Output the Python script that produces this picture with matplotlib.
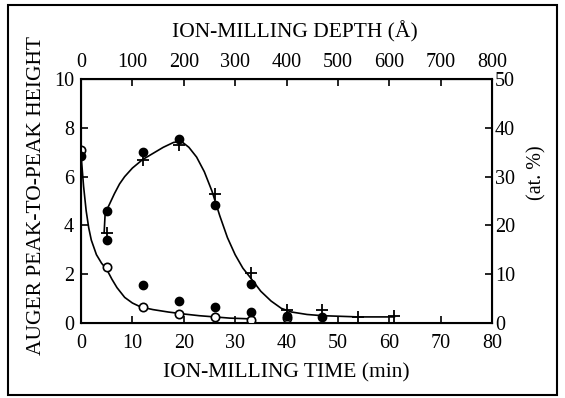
import numpy as np
import matplotlib
matplotlib.use('Agg')
from matplotlib import pyplot as plt
from matplotlib.patches import Rectangle
from matplotlib.ticker import FixedLocator

plt.rcParams['font.family'] = 'Liberation Serif'
plt.rcParams['font.size'] = 14.5

# open circles (left axis)
t_open = [0, 5, 12, 19, 26, 33, 40]
v_open = [7.1, 2.3, 0.66, 0.37, 0.25, 0.12, 0.2]

# filled circles, peak series (left axis)
t_peak = [5, 12, 19, 26, 33]
v_peak = [4.6, 7.0, 7.55, 4.84, 1.6]

# filled circles, decaying series (left axis)
t_fill = [0, 5, 12, 19, 26, 33, 40, 47]
v_fill = [6.85, 3.4, 1.56, 0.9, 0.66, 0.45, 0.3, 0.25]

# crosses, concentration (right axis, at. %)
t_plus = [5, 12, 19, 26, 33, 40, 47, 54, 61]
v_plus = [18.5, 33.5, 36.5, 26.5, 10.2, 2.6, 2.6, 1.3, 1.4]

# hand drawn guide curves (left axis units)
t_curve1 = [0, 0.5, 1, 1.5, 2, 3, 4, 5, 6, 7, 8.5, 10, 11.6, 14, 17, 20, 23, 26, 29, 33]
v_curve1 = [6.9, 5.6, 4.6, 3.9, 3.4, 2.8, 2.45, 2.2, 1.8, 1.45, 1.05, 0.82, 0.66,
            0.55, 0.45, 0.37, 0.3, 0.25, 0.2, 0.17]
t_curve2 = [4.5, 4.7, 5.5, 6.5, 7.5, 8.5, 10, 12, 14, 16, 18, 19.5, 21, 22.5, 24,
            25.5, 27, 28.5, 30, 31.5, 33, 35, 37, 39, 41, 44, 47, 54, 61]
v_curve2 = [3.7, 4.5, 4.85, 5.3, 5.7, 6.0, 6.35, 6.7, 6.95, 7.2, 7.4, 7.45, 7.2,
            6.8, 6.2, 5.4, 4.4, 3.5, 2.8, 2.25, 1.85, 1.3, 0.9, 0.6, 0.45, 0.35,
            0.3, 0.25, 0.25]

depth_labels = [0, 100, 200, 300, 400, 500, 600, 700, 800]

fig = plt.figure(figsize=(5.65, 3.98), dpi=100)
ax = fig.add_axes([0.1434, 0.1884, 0.7274, 0.6131])

ax.plot(t_curve1, v_curve1, color='k', lw=1.2)
ax.plot(t_curve2, v_curve2, color='k', lw=1.2)
ax.plot(t_open, v_open, 'o', ms=6, mfc='white', mec='k', mew=1.2, zorder=4)
ax.plot(t_fill, v_fill, 'o', ms=6, color='k', zorder=4)
ax.plot(t_peak, v_peak, 'o', ms=6, color='k', zorder=4)

ax.set_xlim(0, 80)
ax.set_ylim(0, 10)
ax.set_xticks(np.arange(0, 81, 10))
ax.set_yticks(np.arange(0, 11, 2))
ax.tick_params(direction='in', length=5, width=1.2, pad=5)
ax.tick_params(axis='x', pad=8)
for s in ax.spines.values():
    s.set_linewidth(1.5)

ax2 = ax.twinx()
ax2.plot(t_plus, v_plus, '+', ms=8, mew=1.3, color='k', zorder=5)
ax2.set_ylim(0, 50)
ax2.set_yticks(np.arange(0, 51, 10))
ax2.tick_params(direction='in', length=5, width=1.2, pad=2)

# top depth scale: 100 A per 10 min
top = ax.secondary_xaxis('top', functions=(lambda t: t * 10, lambda d: d / 10))
top.set_xticks(depth_labels)
top.tick_params(direction='in', length=5, width=1.2, pad=5)

fig.text(0.522, 0.92, 'ION-MILLING DEPTH (Å)', ha='center', va='center', fontsize=15.5)
fig.text(0.506, 0.063, 'ION-MILLING TIME (min)', ha='center', va='center', fontsize=15.5)
fig.text(0.064, 0.51, 'AUGER PEAK-TO-PEAK HEIGHT', rotation=90, ha='center',
         va='center', fontsize=15.5)
fig.text(0.95, 0.567, '(at. %)', rotation=90, ha='center', va='center')

fig.patches.append(Rectangle((0.014, 0.0075), 0.972, 0.98, transform=fig.transFigure,
                             fill=False, lw=1.5, edgecolor='k'))

fig.savefig('out.png', dpi=100)
